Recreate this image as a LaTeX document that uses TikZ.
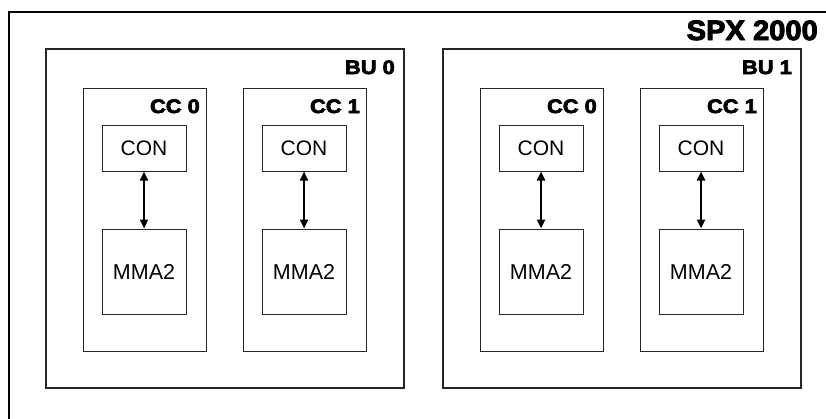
\documentclass[tikz,border=0pt]{standalone}
\usepackage{fontspec}
\setmainfont{Liberation Sans}
\newfontfamily\heavyfont[FakeBold=3.5,FakeStretch=1.12]{Liberation Sans Bold}
\newfontfamily\heavyfontb[FakeBold=3.5,FakeStretch=1.04]{Liberation Sans Bold}
\usetikzlibrary{arrows.meta}
\tikzset{
  box/.style={draw=black!85, line width=1pt, inner sep=0pt, outer sep=0pt},
  bubox/.style={box, line width=1.3pt, minimum width=358pt, minimum height=339pt},
  ccbox/.style={box, minimum width=122.5pt, minimum height=263pt},
  conbox/.style={box, minimum width=84pt, minimum height=46pt, font=\fontsize{21}{24}\selectfont},
  mmabox/.style={box, minimum width=84pt, minimum height=85pt, font=\fontsize{21.5}{24}\selectfont},
  lab/.style={inner sep=0pt, anchor=base east, font=\heavyfont\fontsize{19.5}{22}\selectfont},
  arr/.style={line width=2.3pt, {Triangle[length=9pt,width=8pt]}-{Triangle[length=9pt,width=8pt]}, shorten <=0.5pt, shorten >=0.5pt}
}
\begin{document}
\begin{tikzpicture}[x=1pt,y=-1pt]
\useasboundingbox (0,0) rectangle (826,418);
\clip (0,0) rectangle (826,418);
\fill[white] (0,0) rectangle (826,418);
\node[draw, line width=2.2pt, minimum width=830pt, minimum height=420pt, inner sep=0pt] (spx) at (424,222) {};
\node[lab, font=\heavyfontb\fontsize{28}{32}\selectfont] (spxl) at (818,40) {SPX 2000};
% BU 0
\node[bubox] (bu0) at (225,218.5) {};
\node[lab] (bu0l) at (395,74) {BU 0};
\node[ccbox] (cc00) at (144.75,219.5) {};
\node[lab] (cc00l) at (200,113) {CC 0};
\node[conbox] (con00) at (144,148) {CON};
\node[mmabox] (mma00) at (144,271.5) {MMA2};
\draw[arr] (con00) -- (mma00);
\node[ccbox] (cc01) at (304.75,219.5) {};
\node[lab] (cc01l) at (360,113) {CC 1};
\node[conbox] (con01) at (304,148) {CON};
\node[mmabox] (mma01) at (304,271.5) {MMA2};
\draw[arr] (con01) -- (mma01);
% BU 1
\node[bubox] (bu1) at (622,218.5) {};
\node[lab] (bu1l) at (792,74) {BU 1};
\node[ccbox] (cc10) at (542,219.5) {};
\node[lab] (cc10l) at (597,113) {CC 0};
\node[conbox] (con10) at (541,148) {CON};
\node[mmabox] (mma10) at (541,271.5) {MMA2};
\draw[arr] (con10) -- (mma10);
\node[ccbox] (cc11) at (702,219.5) {};
\node[lab] (cc11l) at (757,113) {CC 1};
\node[conbox] (con11) at (701,148) {CON};
\node[mmabox] (mma11) at (701,271.5) {MMA2};
\draw[arr] (con11) -- (mma11);
\end{tikzpicture}
\end{document}
